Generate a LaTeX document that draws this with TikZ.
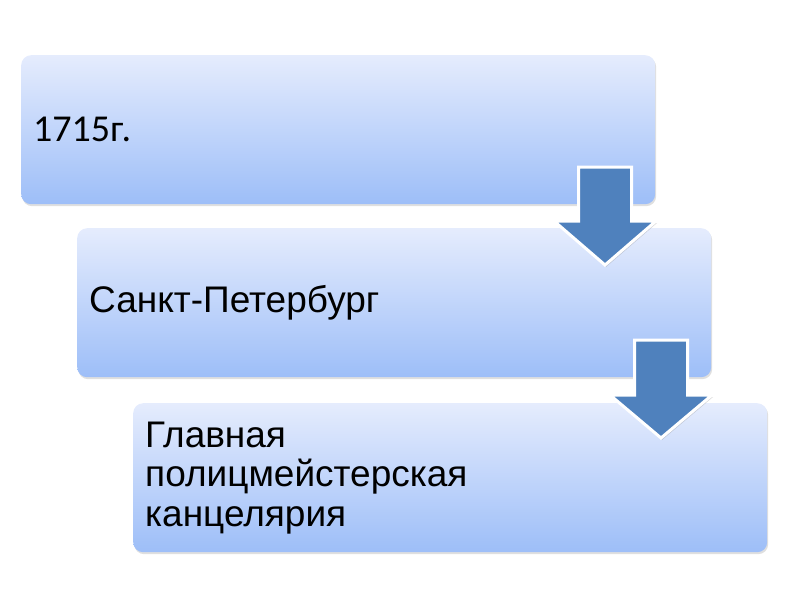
\documentclass[tikz,border=0pt]{standalone}
\usepackage{fontspec}
\setmainfont{Liberation Sans}
\newfontfamily\calfont{Carlito}
\usetikzlibrary{shadows}
\definecolor{boxtop}{RGB}{229,236,253}
\definecolor{boxbot}{RGB}{157,190,248}
\definecolor{arrowblue}{RGB}{79,129,189}
\begin{document}
\begin{tikzpicture}[x=1pt,y=-1pt,
  stage/.style={rounded corners=10pt, top color=boxtop, bottom color=boxbot, draw=none,
    minimum width=634pt, minimum height=149pt, text width=610pt, inner xsep=12pt, inner ysep=0pt,
    align=left, anchor=north west,
    drop shadow={opacity=0.25, shadow xshift=1pt, shadow yshift=-2pt},
    font=\fontsize{37}{39.5}\selectfont},
  blockarrow/.style={fill=arrowblue, draw=white, line width=3pt, line join=miter,
    drop shadow={opacity=0.3, shadow xshift=1pt, shadow yshift=-2pt}}]
\path[use as bounding box] (0,0) rectangle (800,600);
\node[stage, font=\calfont\fontsize{38}{40}\selectfont] (b1) at (21,55) {1715г.};
\node[stage] (b2) at (77,228) {Санкт-Петербург};
\node[stage] (b3) at (133,403) {Главная\\полицмейстерская\\канцелярия};
\draw[blockarrow] (578.5,167) -- (631.5,167) -- (631.5,221) -- (656,221) -- (605,265)
  -- (554,221) -- (578.5,221) -- cycle;
\draw[blockarrow] (634.5,340) -- (687.5,340) -- (687.5,395) -- (712,395) -- (661,438)
  -- (610,395) -- (634.5,395) -- cycle;
\end{tikzpicture}
\end{document}
